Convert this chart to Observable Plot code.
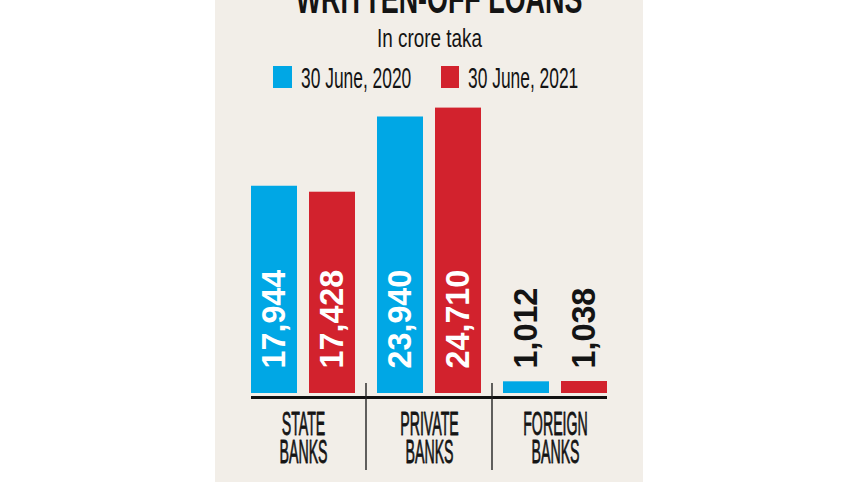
<!DOCTYPE html>
<html>
<head>
<meta charset="utf-8">
<script src="https://cdn.jsdelivr.net/npm/d3@7"></script>
<script src="https://cdn.jsdelivr.net/npm/@observablehq/plot@0.6"></script>
<style>
html, body { margin: 0; padding: 0; background: #ffffff; }
body { width: 857px; height: 482px; position: relative; overflow: hidden; font-family: "Liberation Sans", Arial, sans-serif; color: #141414; }
#panel { position: absolute; left: 215px; top: 0; width: 428px; height: 482px; background: #f2eee8; overflow: hidden; }
.row { position: absolute; left: 0; width: 428px; text-align: center; white-space: nowrap; }
.sq { display: inline-block; transform-origin: center center; }
.leg { position: absolute; top: 0; }
.sw { position: absolute; }
.lt { position: absolute; white-space: nowrap; font-size: 30px; line-height: 30px; transform-origin: left center; }
#chart { position: absolute; left: 0; top: 100px; }
</style>
</head>
<body>
<div id="panel">
  <div class="row" id="title" style="top:-22.5px;font-size:42px;line-height:42px;font-weight:bold;"><span class="sq" style="transform:scaleX(0.64)">WRITTEN-OFF LOANS</span></div>
  <div class="row" id="subtitle" style="top:25.5px;font-size:25px;line-height:25px;"><span class="sq" style="transform:scaleX(0.755)">In crore taka</span></div>
  <div id="legend"></div>
  <div id="chart"></div>
</div>
<script>
const categories = ["STATE BANKS", "PRIVATE BANKS", "FOREIGN BANKS"];
const series = ["30 June, 2020", "30 June, 2021"];
const values2020 = [17944, 23940, 1012];
const values2021 = [17428, 24710, 1038];
const colors = ["#00a7e5", "#d2222d"];

const data = categories.flatMap((c, i) => [
  {cat: c, series: series[0], value: values2020[i]},
  {cat: c, series: series[1], value: values2021[i]}
]);

// Legend
const legend = d3.select("#legend");
series.forEach((s, i) => {
  const item = legend.append("div").attr("class", "leg").style("left", (58.3 + i * 167.4) + "px");
  item.append("div").attr("class", "sw")
    .style("left", "0px").style("top", "65.7px")
    .style("width", "18.4px").style("height", "22.7px")
    .style("background", colors[i]);
  item.append("div").attr("class", "lt")
    .style("left", "27.7px").style("top", "62.9px")
    .style("transform", "scaleX(0.58)")
    .text(s);
});

const fmt = d3.format(",");
const chart = Plot.plot({
  width: 428,
  height: 382,
  marginLeft: 35,
  marginRight: 36,
  marginTop: 0,
  marginBottom: 0,
  style: {background: "transparent", overflow: "visible", fontFamily: "'Liberation Sans', Arial, sans-serif"},
  fx: {domain: categories, paddingInner: 0.178, paddingOuter: 0, axis: null, label: null},
  x: {domain: series, paddingInner: 0.207, paddingOuter: 0, axis: null, label: null},
  y: {domain: [0, 25000], range: [293, 293 - 25000 * 0.01155], axis: null, label: null},
  color: {domain: series, range: colors},
  marks: [
    Plot.barY(data, {fx: "cat", x: "series", y: "value", fill: "series"}),
    Plot.text(data, {
      fx: "cat", x: "series", y: () => 0,
      text: d => fmt(d.value),
      rotate: -90, textAnchor: "start", dy: -25,
      fontSize: 34, fontWeight: "bold",
      fill: d => d.value > 5000 ? "#ffffff" : "#141414"
    }),
    Plot.text(categories, {
      fx: d => d,
      text: d => d.replace(" ", "\n"),
      frameAnchor: "bottom", lineAnchor: "top", dy: -68,
      fontSize: 33, lineHeight: 0.858, fill: "#141414",
      stroke: "#141414", strokeWidth: 0.8
    })
  ]
});
document.getElementById("chart").appendChild(chart);

const svg = d3.select(chart);
function condense(sel, k) {
  sel.each(function () {
    const t = this.getAttribute("transform") || "";
    this.setAttribute("transform", t + " scale(" + k + ",1)");
  });
}
condense(svg.selectAll('g[font-size="33"] text'), 0.43);
condense(svg.selectAll('g[font-size="34"] text'), 0.95);

// Baseline and group separators, placed with the plot's own scales
const fx = chart.scale("fx");
const y = chart.scale("y");
const bw = fx.bandwidth;
const y0 = y.apply(0);
const xs = categories.map(c => fx.apply(c));
svg.append("line")
  .attr("x1", xs[0]).attr("x2", xs[xs.length - 1] + bw)
  .attr("y1", y0 + 4.5).attr("y2", y0 + 4.5)
  .attr("stroke", "#111").attr("stroke-width", 3);
for (let i = 1; i < xs.length; i++) {
  const sx = (xs[i - 1] + bw + xs[i]) / 2;
  svg.append("line")
    .attr("x1", sx).attr("x2", sx)
    .attr("y1", y0 - 10).attr("y2", y0 + 77)
    .attr("stroke", "#222").attr("stroke-width", 1.4);
}
</script>
</body>
</html>
